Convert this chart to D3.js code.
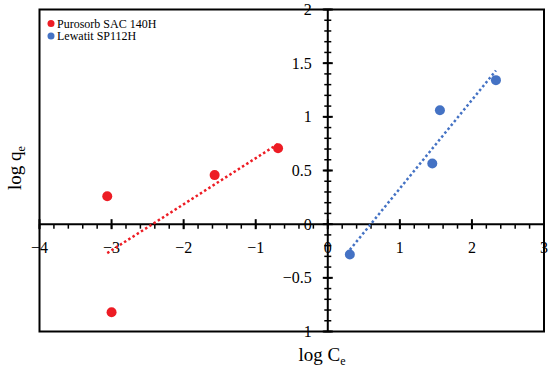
<!DOCTYPE html>
<html><head><meta charset="utf-8">
<script src="https://cdn.jsdelivr.net/npm/d3@7"></script>
<style>body{margin:0;background:#fff}svg{display:block}</style>
</head><body><svg id="c" width="550" height="373"></svg>
<script>
const seriesNames = ["Purosorb SAC 140H", "Lewatit SP112H"];
const seriesColors = ["#ed1c24", "#4472c4"];
const puroX = [-3.06, -3.0, -1.57, -0.69];
const puroY = [0.26, -0.82, 0.457, 0.708];
const lewaX = [0.306, 1.45, 1.556, 2.333];
const lewaY = [-0.283, 0.566, 1.062, 1.342];
const xTicks = [-4, -3, -2, -1, 0, 1, 2, 3];
const yTicks = [-1, -0.5, 0, 0.5, 1, 1.5, 2];

const FONT = "'Liberation Serif', 'Times New Roman', serif";
const svg = d3.select("#c").attr("font-family", FONT);
const L = 39.5, R = 544, T = 9.5, B = 331.5;
const x = d3.scaleLinear().domain([-4, 3]).range([L, R]);
const y = d3.scaleLinear().domain([-1, 2]).range([B, T]);
const fmt = d => d < 0 ? "\u2212" + Math.abs(d) : String(d);

// frame
svg.append("rect").attr("x", L).attr("y", T).attr("width", R - L).attr("height", B - T)
  .attr("fill", "none").attr("stroke", "#000").attr("stroke-width", 2);

// x axis at y=0
const xMinor = d3.range(-4, 3.001, 0.2).map(v => +v.toFixed(2));
const gx = svg.append("g");
gx.append("line").attr("x1", L).attr("x2", R).attr("y1", y(0)).attr("y2", y(0)).attr("stroke", "#000").attr("stroke-width", 2);
gx.selectAll(".mn").data(xMinor).join("line").attr("x1", d => x(d)).attr("x2", d => x(d))
  .attr("y1", y(0)).attr("y2", y(0) + 4.5).attr("stroke", "#000").attr("stroke-width", 1.5);
gx.selectAll(".mj").data(xTicks).join("line").attr("x1", d => x(d)).attr("x2", d => x(d))
  .attr("y1", y(0) - 5).attr("y2", y(0) + 5).attr("stroke", "#000").attr("stroke-width", 2);
gx.selectAll("text").data(xTicks).join("text").attr("x", d => x(d)).attr("y", y(0) + 29)
  .attr("text-anchor", "middle").attr("font-size", 16).attr("font-family", FONT).attr("fill", "#000")
  .text(fmt);

// y axis at x=0
const yMinor = d3.range(-1, 2.001, 0.1).map(v => +v.toFixed(2));
const gy = svg.append("g");
gy.append("line").attr("x1", x(0)).attr("x2", x(0)).attr("y1", T).attr("y2", B).attr("stroke", "#000").attr("stroke-width", 2);
gy.selectAll(".mn").data(yMinor).join("line").attr("y1", d => y(d)).attr("y2", d => y(d))
  .attr("x1", x(0) - 3.5).attr("x2", x(0) + 3.5).attr("stroke", "#000").attr("stroke-width", 1.5);
gy.selectAll(".mj").data(yTicks).join("line").attr("y1", d => y(d)).attr("y2", d => y(d))
  .attr("x1", x(0) - 5).attr("x2", x(0) + 5).attr("stroke", "#000").attr("stroke-width", 2);
gy.selectAll("text").data(yTicks).join("text").attr("x", x(0) - 16).attr("y", d => y(d) + 5.5)
  .attr("text-anchor", "end").attr("font-size", 16).attr("font-family", FONT).attr("fill", "#000")
  .text(fmt);

// trendlines (least squares)
function fit(xs, ys) {
  const mx = d3.mean(xs), my = d3.mean(ys);
  const sxy = d3.sum(xs, (v, i) => (v - mx) * (ys[i] - my));
  const sxx = d3.sum(xs, v => (v - mx) ** 2);
  const b = sxy / sxx, a = my - b * mx;
  const x0 = d3.min(xs), x1 = d3.max(xs);
  return [[x0, a + b * x0], [x1, a + b * x1]];
}
const sets = [[puroX, puroY], [lewaX, lewaY]];
sets.forEach((s, i) => {
  const f = fit(s[0], s[1]);
  svg.append("line").attr("x1", x(f[0][0])).attr("y1", y(f[0][1])).attr("x2", x(f[1][0])).attr("y2", y(f[1][1]))
    .attr("stroke", seriesColors[i]).attr("stroke-width", 2.5).attr("stroke-dasharray", "2.5,2.5");
});
sets.forEach((s, i) => {
  svg.selectAll(null).data(s[0].map((v, j) => [v, s[1][j]])).join("circle")
    .attr("cx", d => x(d[0])).attr("cy", d => y(d[1])).attr("r", 5).attr("fill", seriesColors[i]);
});

// legend
seriesNames.forEach((n, i) => {
  svg.append("circle").attr("cx", 51).attr("cy", 23.5 + i * 12.5).attr("r", 3.5).attr("fill", seriesColors[i]);
  svg.append("text").attr("x", 57).attr("y", 27.5 + i * 12.5).attr("font-size", 12)
    .attr("font-family", FONT).attr("fill", "#000").text(n);
});

// axis titles
const xt = svg.append("text").attr("x", 322).attr("y", 361).attr("text-anchor", "middle").attr("font-size", 19).attr("font-family", FONT);
xt.append("tspan").text("log C");
xt.append("tspan").attr("font-size", 12).attr("dy", 4).text("e");
const yt = svg.append("text").attr("transform", "translate(21,168) rotate(-90)").attr("text-anchor", "middle").attr("font-size", 19).attr("font-family", FONT);
yt.append("tspan").text("log q");
yt.append("tspan").attr("font-size", 12).attr("dy", 4).text("e");
</script></body></html>
